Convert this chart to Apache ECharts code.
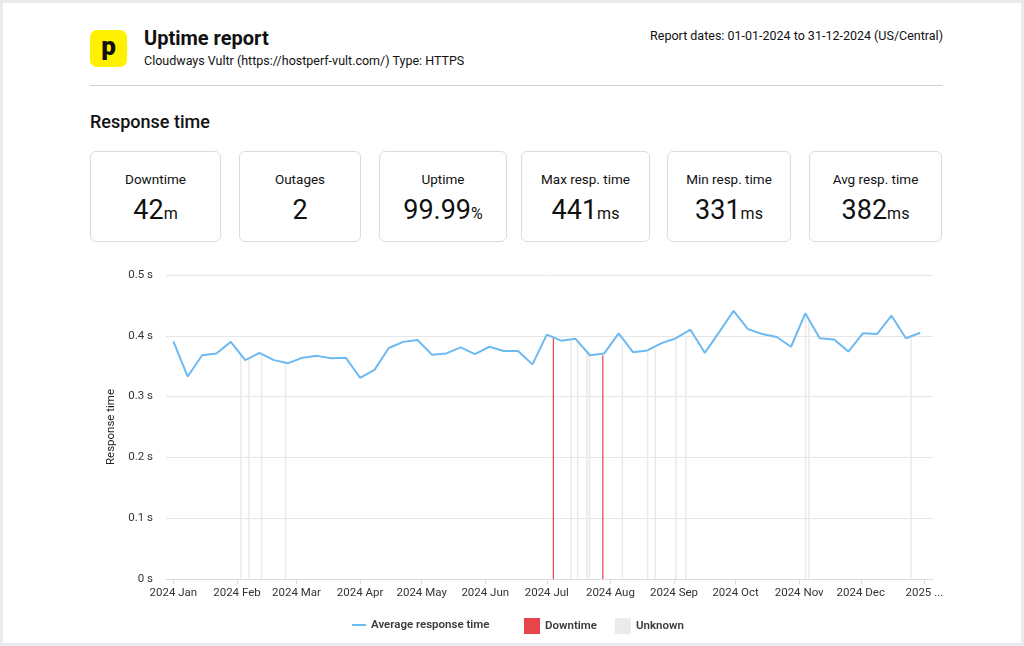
<!DOCTYPE html>
<html><head><meta charset="utf-8">
<script src="https://cdn.jsdelivr.net/npm/echarts@6/dist/echarts.min.js"></script>
<style>
html,body{margin:0;padding:0;width:1024px;height:646px;overflow:hidden;background:#e8eaed;font-family:Roboto,"Noto Sans",sans-serif;color:#111}
#panel{position:absolute;left:3px;top:3px;width:1018px;height:640px;background:#fff}
.abs{position:absolute;white-space:nowrap}
#logo{left:90px;top:30px;width:37px;height:37px;background:#fff100;border-radius:7px;text-align:center;font:900 26px/32px Roboto,sans-serif;color:#111}
#title{left:144px;top:25px;font:700 20px/26px Roboto,sans-serif;color:#111}
#sub{left:144px;top:52px;font:400 12.5px/18px Roboto,sans-serif;color:#111}
#dates{right:81px;top:27px;font:400 12.5px/18px Roboto,sans-serif;color:#111}
#rule{left:90px;top:85px;width:853px;height:1px;background:#cfcfcf}
#section{left:90px;top:110px;font:500 18px/24px Roboto,sans-serif;color:#111}
.card{position:absolute;top:151px;height:91px;border:1px solid #dcdcdc;border-radius:6px;box-sizing:border-box;text-align:center}
.card .lbl{position:absolute;left:0;right:0;top:18px;font:400 13.5px/18px Roboto,sans-serif;color:#111}
.card .val{position:absolute;left:0;right:0;top:42px;font:400 27px/32px Roboto,sans-serif;color:#111}
.card .val small{font-size:16px}
#chart{position:absolute;left:0;top:250px;width:1024px;height:396px}
</style></head>
<body>
<div id="panel"></div>
<div id="logo" class="abs">p</div>
<div id="title" class="abs">Uptime report</div>
<div id="sub" class="abs">Cloudways Vultr (https://hostperf-vult.com/) Type: HTTPS</div>
<div id="dates" class="abs">Report dates: 01-01-2024 to 31-12-2024 (US/Central)</div>
<div id="rule" class="abs"></div>
<div id="section" class="abs">Response time</div>
<div id="cards"></div>
<div id="chart"></div>
<script>
// ---- data ----
var statLabels = ['Downtime', 'Outages', 'Uptime', 'Max resp. time', 'Min resp. time', 'Avg resp. time'];
var statValues = ['42', '2', '99.99', '441', '331', '382'];
var statUnits = ['m', '', '%', 'ms', 'ms', 'ms'];

var weekDates = ['2024-01-01','2024-01-08','2024-01-15','2024-01-22','2024-01-29',
  '2024-02-05','2024-02-12','2024-02-19','2024-02-26',
  '2024-03-04','2024-03-11','2024-03-18','2024-03-25',
  '2024-04-01','2024-04-08','2024-04-15','2024-04-22','2024-04-29',
  '2024-05-06','2024-05-13','2024-05-20','2024-05-27',
  '2024-06-03','2024-06-10','2024-06-17','2024-06-24',
  '2024-07-01','2024-07-08','2024-07-15','2024-07-22','2024-07-29',
  '2024-08-05','2024-08-12','2024-08-19','2024-08-26',
  '2024-09-02','2024-09-09','2024-09-16','2024-09-23','2024-09-30',
  '2024-10-07','2024-10-14','2024-10-21','2024-10-28',
  '2024-11-04','2024-11-11','2024-11-18','2024-11-25',
  '2024-12-02','2024-12-09','2024-12-16','2024-12-23','2024-12-30'];
var avgResponse = [0.391,0.333,0.368,0.371,0.390,0.360,0.372,0.360,0.355,0.364,
  0.367,0.363,0.364,0.331,0.344,0.380,0.390,0.393,0.369,0.371,
  0.381,0.370,0.382,0.375,0.375,0.353,0.402,0.392,0.395,0.368,
  0.371,0.404,0.373,0.376,0.388,0.396,0.410,0.372,0.406,0.441,
  0.411,0.403,0.398,0.382,0.437,0.396,0.394,0.374,0.404,0.403,
  0.433,0.396,0.405];

var downtimeTimes = ['2024-07-04T05:00:00Z','2024-07-28T07:00:00Z'];
var downtimeTops = [0.397, 0.368];
var unknownTimes = ['2024-02-02T18:00:00Z','2024-02-06T17:00:00Z','2024-02-12T21:00:00Z','2024-02-24T14:00:00Z',
  '2024-07-12T17:00:00Z','2024-07-15T22:00:00Z','2024-07-20T12:00:00Z','2024-07-21T17:00:00Z',
  '2024-08-06T17:00:00Z','2024-08-19T00:00:00Z','2024-08-22T17:00:00Z','2024-09-01T19:00:00Z',
  '2024-09-06T17:00:00Z','2024-11-04T00:00:00Z','2024-11-05T14:00:00Z','2024-12-25T10:00:00Z'];
var unknownTops = [0.371,0.363,0.370,0.355,0.393,0.395,0.372,0.372,0.388,0.374,0.377,0.393,0.401,0.434,0.426,0.398];

var monthTickDates = ['2024-01-01','2024-02-01','2024-03-01','2024-04-01','2024-05-01','2024-06-01',
  '2024-07-01','2024-08-01','2024-09-01','2024-10-01','2024-11-01','2024-12-01','2025-01-01'];
var xTickLabels = ['2024 Jan','2024 Feb','2024 Mar','2024 Apr','2024 May','2024 Jun',
  '2024 Jul','2024 Aug','2024 Sep','2024 Oct','2024 Nov','2024 Dec','2025 ...'];
var yTickLabels = ['0 s','0.1 s','0.2 s','0.3 s','0.4 s','0.5 s'];
var seriesNames = ['Average response time', 'Downtime', 'Unknown'];

// ---- cards ----
var cardLeft = [90, 239, 379, 521, 667, 809];
var cardRight = [221, 361, 507, 650, 791, 942];
var cardsHtml = '';
for (var i = 0; i < statLabels.length; i++) {
  cardsHtml += '<div class="card" style="left:' + cardLeft[i] + 'px;width:' + (cardRight[i] - cardLeft[i]) + 'px">' +
    '<div class="lbl">' + statLabels[i] + '</div>' +
    '<div class="val">' + statValues[i] + (statUnits[i] ? '<small>' + statUnits[i] + '</small>' : '') + '</div></div>';
}
document.getElementById('cards').innerHTML = cardsHtml;

// ---- chart ----
function utc(s) { return Date.parse(s.length === 10 ? s + 'T00:00:00Z' : s); }
var monthTicks = monthTickDates.map(utc);
var lineData = weekDates.map(function (d, i) { return [utc(d), avgResponse[i]]; });
var downData = downtimeTimes.map(function (d, i) { return [utc(d), downtimeTops[i]]; });
var unkData = unknownTimes.map(function (d, i) { return [utc(d), unknownTops[i]]; });

var chart = echarts.init(document.getElementById('chart'), null, { renderer: 'canvas' });
var legendText = { fontFamily: 'Roboto, sans-serif', fontSize: 11.5, fontWeight: 600, color: '#3a3a3a' };
chart.setOption({
  animation: false,
  grid: { left: 166, right: 91, top: 25, height: 304 },
  xAxis: {
    type: 'value',
    min: Date.UTC(2023, 11, 28, 10),
    max: Date.UTC(2025, 0, 5, 5),
    axisLine: { lineStyle: { color: '#dcdcdc' } },
    axisTick: { show: true, length: 5, lineStyle: { color: '#dcdcdc' }, customValues: monthTicks },
    splitLine: { show: false },
    axisLabel: {
      customValues: monthTicks,
      color: '#333', fontSize: 11.5, fontFamily: 'Roboto, sans-serif', margin: 8,
      formatter: function (v) {
        var idx = monthTicks.indexOf(+v);
        return idx >= 0 ? xTickLabels[idx] : '';
      }
    }
  },
  yAxis: {
    type: 'value', min: 0, max: 0.5, interval: 0.1,
    name: 'Response time', nameLocation: 'middle', nameGap: 49,
    nameTextStyle: { color: '#222', fontSize: 11.5, fontFamily: 'Roboto, sans-serif' },
    axisLine: { show: false }, axisTick: { show: false },
    splitLine: { lineStyle: { color: '#e6e6e6' } },
    axisLabel: {
      color: '#333', fontSize: 11.5, fontFamily: 'Roboto, sans-serif', margin: 13,
      formatter: function (v) { return yTickLabels[Math.round(v * 10)]; }
    }
  },
  legend: [
    { data: [{ name: seriesNames[0], icon: 'path://M0,0H14V2H0Z' }], left: 352, top: 369, padding: 0, itemWidth: 14, itemHeight: 14, selectedMode: false, textStyle: legendText },
    { data: [{ name: seriesNames[1], icon: 'rect' }], left: 524, top: 368, padding: 0, itemWidth: 16, itemHeight: 16, selectedMode: false, textStyle: legendText },
    { data: [{ name: seriesNames[2], icon: 'rect' }], left: 615, top: 368, padding: 0, itemWidth: 16, itemHeight: 16, selectedMode: false, textStyle: legendText }
  ],
  series: [
    {
      name: seriesNames[2], type: 'bar', data: unkData, barWidth: 1.6, barGap: '-100%',
      itemStyle: { color: '#ebebeb' }, z: 1, silent: true
    },
    {
      name: seriesNames[1], type: 'bar', data: downData, barWidth: 1.2, barGap: '-100%',
      itemStyle: { color: '#e3242b', opacity: 0.85 }, z: 2, silent: true
    },
    {
      name: seriesNames[0], type: 'line', data: lineData, showSymbol: false, symbol: 'none',
      lineStyle: { color: '#6dbaf2', width: 2 }, itemStyle: { color: '#6dbaf2' }, z: 5
    }
  ]
});
</script>
</body></html>
